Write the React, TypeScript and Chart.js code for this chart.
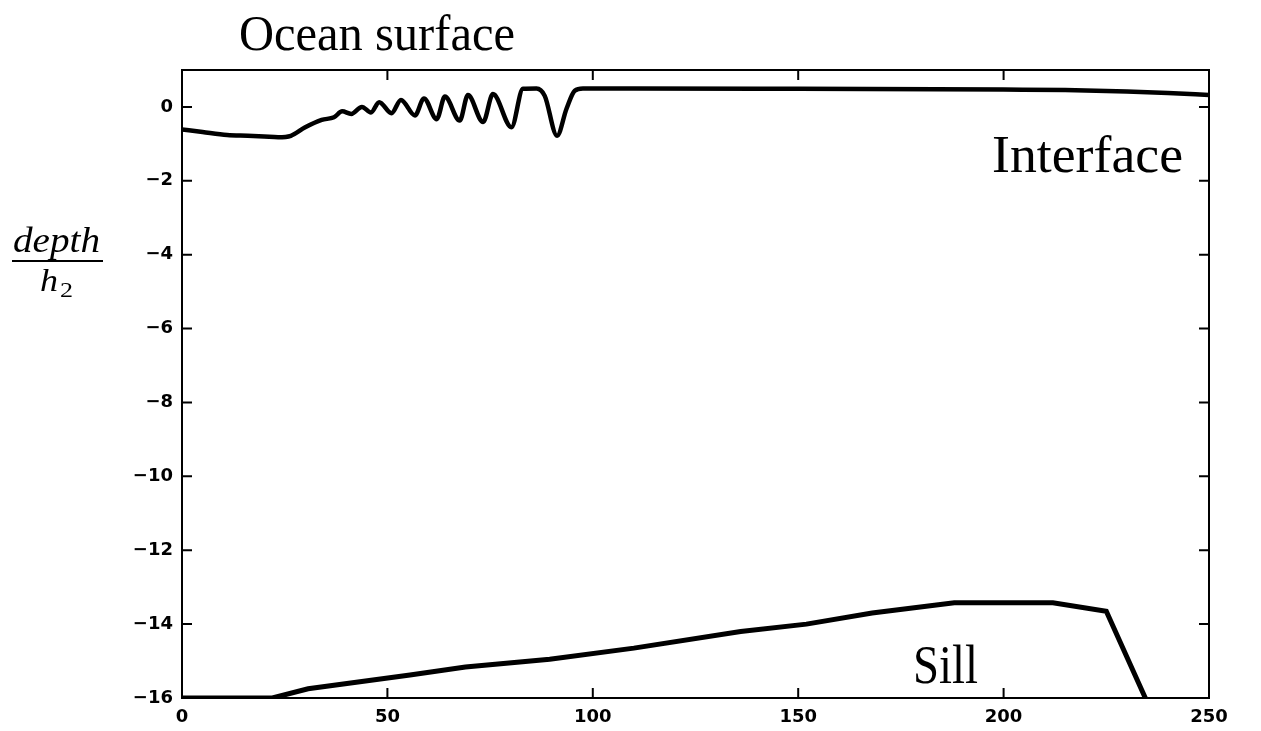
import React, { useEffect, useRef } from "react";
import { Chart, registerables } from "chart.js";

Chart.register(...registerables);

// ---- data ----
const interfaceX = [0, 5, 11, 16, 20, 23.4, 26.5, 30, 34, 37, 39, 41.2, 43.8, 46, 48, 51, 53.3, 56.7, 58.9, 62, 64, 67.6, 69.6, 73.3, 75.7, 80.2, 83, 86.3, 88.3, 91.3, 93.6, 95.6, 97.6, 110, 150, 200, 215, 230, 240, 250];
const interfaceY = [-0.61, -0.68, -0.76, -0.78, -0.8, -0.82, -0.78, -0.55, -0.35, -0.28, -0.12, -0.19, 0.0, -0.15, 0.13, -0.17, 0.19, -0.23, 0.23, -0.33, 0.28, -0.37, 0.32, -0.41, 0.35, -0.55, 0.49, 0.5, 0.3, -0.78, -0.05, 0.44, 0.5, 0.5, 0.49, 0.47, 0.46, 0.42, 0.38, 0.32];

const sillX = [0, 22, 30.7, 55.5, 69, 89.5, 110, 136, 152, 168, 188, 212, 225, 234.5];
const sillY = [-16, -16, -15.75, -15.38, -15.16, -14.95, -14.65, -14.2, -14.0, -13.7, -13.42, -13.42, -13.65, -16];

const xTicks = [0, 50, 100, 150, 200, 250];
const yTicks = [-16, -14, -12, -10, -8, -6, -4, -2, 0];

const X_MIN = 0, X_MAX = 250, Y_MIN = -16, Y_MAX = 1;

function drawFitted(ctx: CanvasRenderingContext2D, text: string, family: string, style: string, left: number, right: number, top: number, baseline: number) {
  const h = baseline - top;
  const size = h / 0.68;
  ctx.save();
  ctx.font = `${style} ${size}px ${family}`;
  ctx.textAlign = "left";
  ctx.textBaseline = "alphabetic";
  const w = ctx.measureText(text).width;
  ctx.translate(left, baseline);
  ctx.scale((right - left) / w, 1);
  ctx.fillStyle = "#000";
  ctx.fillText(text, 0, 0);
  ctx.restore();
}

const decorPlugin = {
  id: "decor",
  afterDraw(chart: any) {
    const ctx: CanvasRenderingContext2D = chart.ctx;
    const { left, right, top, bottom } = chart.chartArea;
    const xs = chart.scales.x;
    const ys = chart.scales.y;
    ctx.save();
    ctx.strokeStyle = "#000";
    ctx.lineWidth = 2;
    ctx.strokeRect(left, top, right - left, bottom - top);
    const tl = 10;
    ctx.beginPath();
    for (const v of xTicks) {
      const px = xs.getPixelForValue(v);
      ctx.moveTo(px, bottom);
      ctx.lineTo(px, bottom - tl);
      ctx.moveTo(px, top);
      ctx.lineTo(px, top + tl);
    }
    for (const v of yTicks) {
      const py = ys.getPixelForValue(v);
      ctx.moveTo(left, py);
      ctx.lineTo(left + tl, py);
      ctx.moveTo(right, py);
      ctx.lineTo(right - tl, py);
    }
    ctx.stroke();
    ctx.restore();

    const serif = '"Liberation Serif", "DejaVu Serif", serif';
    drawFitted(ctx, "Ocean surface", serif, "", 239, 515, 16, 50);
    drawFitted(ctx, "Interface", serif, "", 992, 1183, 136, 172);
    drawFitted(ctx, "Sill", serif, "", 913, 978, 645, 683);

    // y-axis label: depth / h2
    drawFitted(ctx, "depth", serif, "italic", 13, 100, 228, 252);
    ctx.save();
    ctx.fillStyle = "#000";
    ctx.fillRect(12, 260, 91, 2);
    ctx.restore();
    drawFitted(ctx, "h", serif, "italic", 40, 58, 270, 291);
    drawFitted(ctx, "2", serif, "", 60, 73, 283, 297);
  },
};

export default function App() {
  const ref = useRef<HTMLCanvasElement | null>(null);
  useEffect(() => {
    document.body.style.margin = "0";
    const canvas = ref.current!;
    const chart = new Chart(canvas, {
      type: "line",
      data: {
        datasets: [
          {
            label: "Interface",
            data: interfaceX.map((x, i) => ({ x, y: interfaceY[i] })),
            borderColor: "#000",
            borderWidth: 4.5,
            pointRadius: 0,
            cubicInterpolationMode: "monotone",
            fill: false,
          },
          {
            label: "Sill",
            data: sillX.map((x, i) => ({ x, y: sillY[i] })),
            borderColor: "#000",
            borderWidth: 5,
            pointRadius: 0,
            tension: 0,
            fill: false,
          },
        ],
      },
      options: {
        animation: false,
        responsive: false,
        devicePixelRatio: 1,
        layout: { padding: { top: 70, right: 52, left: 0, bottom: 0 } },
        plugins: { legend: { display: false }, tooltip: { enabled: false }, title: { display: false } },
        scales: {
          x: {
            type: "linear",
            min: X_MIN,
            max: X_MAX,
            grid: { display: false, drawTicks: false },
            border: { display: false },
            afterBuildTicks: (s: any) => { s.ticks = xTicks.map((v) => ({ value: v })); },
            afterFit: (s: any) => { s.height = 33; },
            ticks: {
              padding: 9,
              color: "#000",
              font: { family: '"DejaVu Sans", sans-serif', weight: "bold", size: 18 },
              callback: (v: any) => String(v),
              maxRotation: 0,
            },
          },
          y: {
            type: "linear",
            min: Y_MIN,
            max: Y_MAX,
            grid: { display: false, drawTicks: false },
            border: { display: false },
            afterBuildTicks: (s: any) => { s.ticks = yTicks.map((v) => ({ value: v })); },
            afterFit: (s: any) => { s.width = 182; },
            ticks: {
              padding: 9,
              color: "#000",
              font: { family: '"DejaVu Sans", sans-serif', weight: "bold", size: 18 },
              callback: (v: any) => (v < 0 ? "\u2212" + Math.abs(v) : String(v)),
            },
          },
        },
      },
      plugins: [decorPlugin],
    } as any);
    return () => chart.destroy();
  }, []);
  return (
    <div style={{ position: "fixed", left: 0, top: 0, width: 1261, height: 731, background: "#fff" }}>
      <canvas ref={ref} width={1261} height={731} />
    </div>
  );
}
